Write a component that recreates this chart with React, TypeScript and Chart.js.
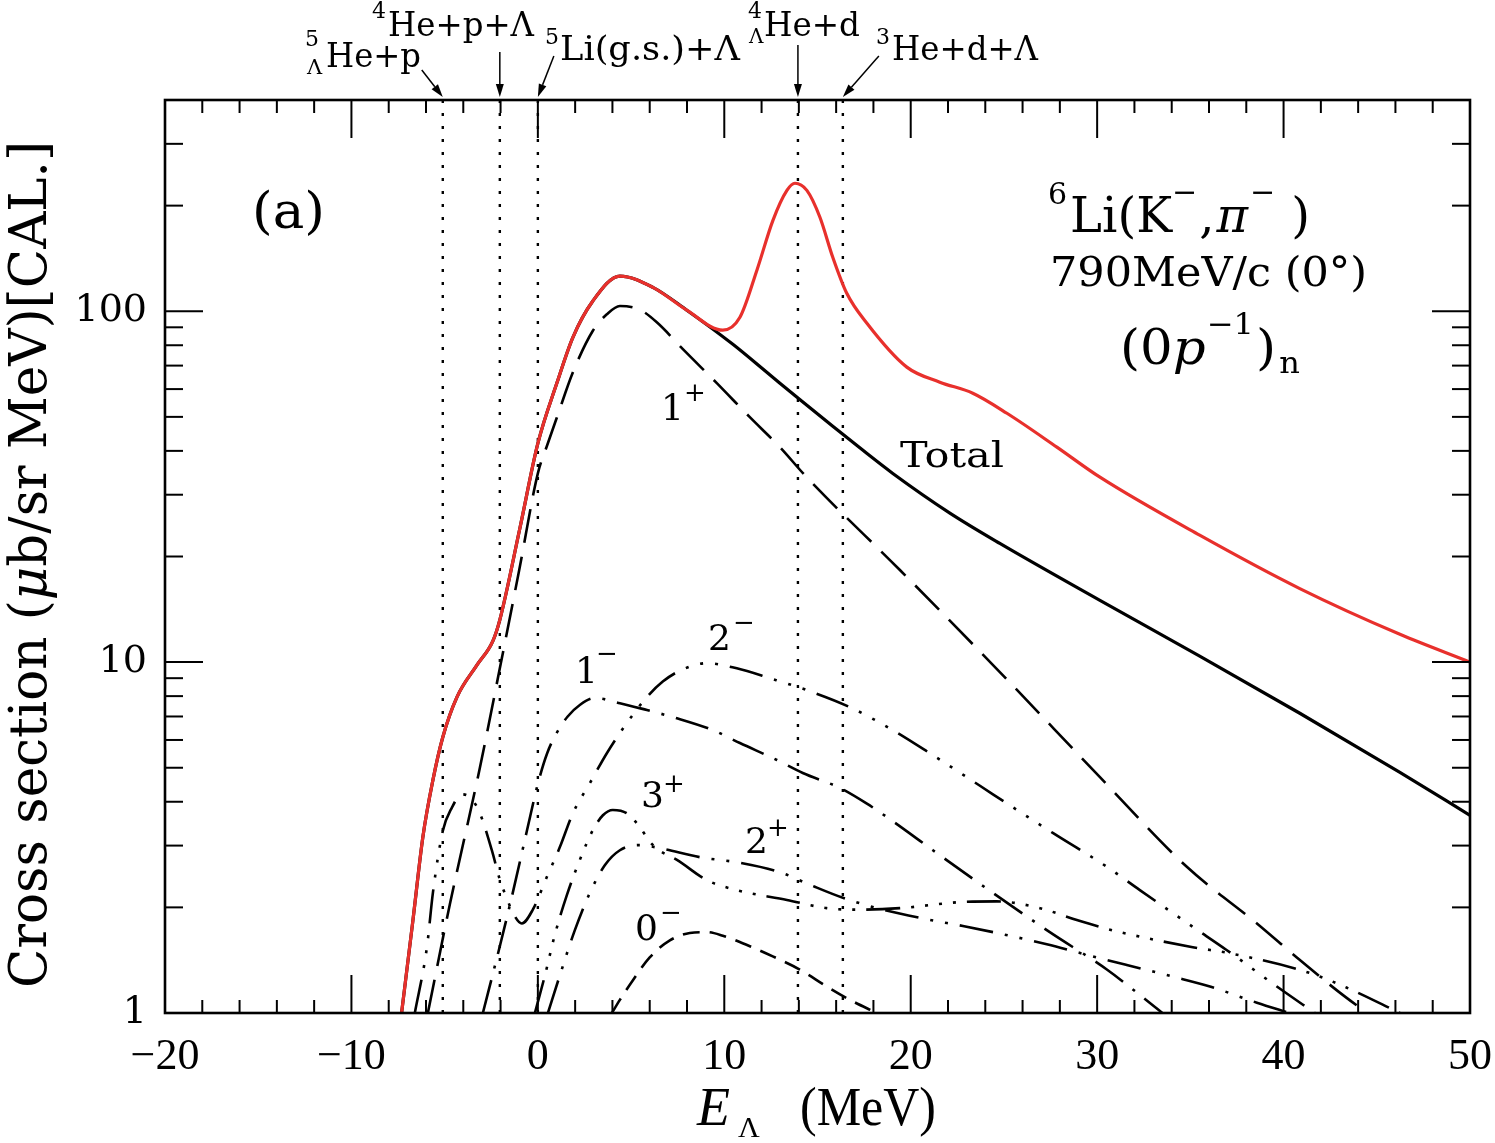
import React, { useEffect, useRef } from 'react';
import { Chart, registerables } from 'chart.js';

Chart.register(...registerables);

// ---- data -------------------------------------------------------------
const thresholds = [-5.1, -2.04, 0, 13.95, 16.36];
const thresholdTop = 400;

const redE = [-7.31, -6.7, -6.17, -5.63, -5.1, -4.34, -3.27, -2.41, -2.04, -0.97, 0, 1.02, 1.88, 2.95, 4.4, 6.17, 7.99, 9.92, 10.84, 11.75, 12.61, 13.36, 13.79, 14.43, 15.13, 15.82, 16.57, 17.65, 19.79, 21.56, 23.33, 25.16, 27.84, 30.15, 35.5, 40.87, 46.24, 50];
const redV = [1.0, 1.84, 3.17, 4.61, 6.11, 7.95, 9.8, 11.5, 13.2, 24.0, 42, 62.4, 84.3, 107, 126, 117, 100.7, 88.3, 96.1, 130.9, 181.6, 221, 231.6, 221, 185.3, 142.5, 112.5, 92.4, 69.3, 62.8, 58.4, 51.2, 41, 33.65, 23.0, 16.2, 12.0, 10];

const totalE = [-7.31, -6.7, -6.17, -5.63, -5.1, -4.34, -3.27, -2.41, -2.04, -0.97, 0, 1.02, 1.88, 2.95, 4.4, 6.17, 7.99, 10.46, 12.28, 14.05, 15.82, 17.27, 19.04, 22.1, 24.78, 30.15, 35.5, 40.87, 46.24, 50];
const totalV = [1.0, 1.84, 3.17, 4.61, 6.11, 7.95, 9.8, 11.5, 13.2, 24.0, 42, 62.4, 84.3, 107, 126, 117, 100.7, 80.5, 67, 56, 47, 40.8, 34.5, 26.6, 21.8, 15.0, 10.4, 7.15, 4.85, 3.66];

const onePlusE = [-5.9, -4.72, -3.11, -2.04, -1.0, 0, 0.5, 1.02, 1.88, 2.95, 3.7, 4.4, 5.47, 6.38, 7.78, 9.6, 11.37, 12.98, 14.43, 19.42, 24.78, 30.15, 34.81, 38.57, 40.71, 42.86, 44.47];
const onePlusV = [1.0, 2.04, 5.0, 9.6, 18.3, 34.5, 41.5, 49.8, 67, 88, 98, 103.5, 101, 93, 78, 62.4, 49.9, 41, 33.6, 18.3, 9.37, 4.7, 2.61, 1.8, 1.44, 1.16, 1.0];

const oneMinusE = [-2.95, -2.04, -1.39, -0.59, 0, 0.5, 1.02, 1.6, 2.25, 3.06, 4.4, 5.85, 7.46, 9.39, 10.84, 12.82, 14.21, 16.2, 17.65, 19.04, 21.19, 24.4, 27.46, 30.52, 33.5];
const oneMinusV = [1.0, 1.55, 2.15, 3.3, 4.5, 5.5, 6.3, 7.0, 7.55, 7.9, 7.64, 7.3, 6.92, 6.4, 5.88, 5.26, 4.83, 4.38, 3.95, 3.52, 2.91, 2.2, 1.7, 1.33, 1.0];

const twoMinusE = [-6.6, -5.95, -5.63, -5.1, -4.61, -4.08, -3.6, -3.11, -2.47, -2.04, -1.66, -1.34, -0.86, -0.27, 0.48, 1.18, 1.88, 2.79, 3.7, 4.77, 5.85, 6.7, 7.62, 9.07, 10.67, 12.44, 14.43, 16.74, 19.04, 21.19, 23.01, 24.41, 27.62, 30.52, 32.29, 35.13, 36.96, 39.64, 41.68];
const twoMinusV = [1.0, 1.54, 2.2, 3.3, 3.85, 4.2, 4.1, 3.71, 2.91, 2.4, 2.12, 1.93, 1.8, 1.97, 2.44, 2.97, 3.71, 4.52, 5.5, 6.7, 7.95, 8.8, 9.45, 9.93, 9.6, 9.0, 8.32, 7.44, 6.4, 5.43, 4.7, 4.2, 3.26, 2.61, 2.24, 1.76, 1.51, 1.19, 1.0];

const threePlusE = [-0.16, 0.38, 0.91, 1.56, 2.25, 2.95, 3.49, 4.02, 4.77, 5.47, 6.0, 6.54, 7.46, 9.07, 10.67, 13.36, 15.5, 17.27, 19.42, 22.64, 24.62, 26.93, 28.91, 30.84, 35.13, 37.12, 41.41, 43.4, 46.24];
const threePlusV = [1.0, 1.28, 1.67, 2.17, 2.73, 3.32, 3.66, 3.79, 3.71, 3.39, 3.08, 2.9, 2.73, 2.39, 2.24, 2.1, 1.99, 1.97, 1.99, 2.07, 2.08, 1.99, 1.84, 1.72, 1.54, 1.48, 1.3, 1.18, 1.0];

const twoPlusE = [0.54, 1.18, 1.98, 2.79, 3.6, 4.4, 5.47, 6.54, 8.69, 10.84, 12.98, 14.59, 16.36, 18.35, 20.87, 22.8, 25.32, 27.3, 29.77, 31.59, 34.06, 36.05, 38.57, 40.3];
const twoPlusV = [1.0, 1.28, 1.72, 2.2, 2.64, 2.91, 3.01, 2.95, 2.78, 2.68, 2.52, 2.32, 2.13, 1.98, 1.85, 1.77, 1.66, 1.57, 1.45, 1.37, 1.27, 1.19, 1.07, 1.0];

const zeroMinusE = [3.97, 4.4, 5.1, 6.0, 7.08, 8.15, 9.07, 9.92, 11.37, 12.6, 14.05, 15.5, 16.74, 18.18];
const zeroMinusV = [1.0, 1.09, 1.24, 1.44, 1.61, 1.69, 1.7, 1.66, 1.55, 1.45, 1.33, 1.19, 1.09, 1.0];

const xMin = -20;
const xMax = 50;
const xMajorStep = 10;
const xMinorStep = 2;
const yMin = 1;
const yMax = 400;
const yLabelValues = [1, 10, 100];

// ---- styling helpers ----------------------------------------------------
const DV = "'DejaVu Serif'";
const LS = "'Liberation Serif'";
const RED = '#e8302c';

const toPts = (xs: number[], ys: number[]) => xs.map((x, i) => ({ x, y: ys[i] }));

type Piece = { t: string; f: string; dx?: number; dy?: number };

function rich(ctx: CanvasRenderingContext2D, pieces: Piece[], x: number, y: number, width?: number) {
  ctx.save();
  ctx.textAlign = 'left';
  ctx.textBaseline = 'alphabetic';
  ctx.fillStyle = '#000';
  let nat = 0;
  for (const p of pieces) {
    ctx.font = p.f;
    nat += (p.dx || 0) + ctx.measureText(p.t).width;
  }
  const s = width ? width / nat : 1;
  ctx.translate(x, y);
  ctx.scale(s, 1);
  let cx = 0;
  for (const p of pieces) {
    ctx.font = p.f;
    cx += p.dx || 0;
    ctx.fillText(p.t, cx, p.dy || 0);
    cx += ctx.measureText(p.t).width;
  }
  ctx.restore();
}

function arrow(ctx: CanvasRenderingContext2D, x0: number, y0: number, x1: number, y1: number) {
  const ang = Math.atan2(y1 - y0, x1 - x0);
  const L = 13;
  const W = 4;
  const bx = x1 - L * Math.cos(ang);
  const by = y1 - L * Math.sin(ang);
  ctx.beginPath();
  ctx.moveTo(x0, y0);
  ctx.lineTo(bx, by);
  ctx.stroke();
  ctx.beginPath();
  ctx.moveTo(x1, y1);
  ctx.lineTo(bx + W * Math.sin(ang), by - W * Math.cos(ang));
  ctx.lineTo(bx - W * Math.sin(ang), by + W * Math.cos(ang));
  ctx.closePath();
  ctx.fill();
}

const framePlugin = {
  id: 'frameAndText',
  afterDraw(chart: any) {
    const { ctx, chartArea: a, scales } = chart;
    const xs = scales.x;
    const ys = scales.y;
    ctx.save();
    ctx.strokeStyle = '#000';
    ctx.fillStyle = '#000';
    ctx.lineCap = 'butt';

    // ticks on all sides, pointing inward
    ctx.lineWidth = 2;
    const seg = (x0: number, y0: number, x1: number, y1: number) => {
      ctx.beginPath();
      ctx.moveTo(x0, y0);
      ctx.lineTo(x1, y1);
      ctx.stroke();
    };
    for (let v = xMin; v <= xMax + 1e-9; v += xMinorStep) {
      const px = xs.getPixelForValue(v);
      const major = Math.abs(v % xMajorStep) < 1e-9;
      const L = major ? 38 : 13;
      seg(px, a.bottom, px, a.bottom - L);
      seg(px, a.top, px, a.top + L);
    }
    for (let dec = 1; dec <= 100; dec *= 10) {
      for (let m = 1; m <= 9; m++) {
        const v = dec * m;
        if (v < yMin || v >= yMax) continue;
        const py = ys.getPixelForValue(v);
        const L = m === 1 ? 38 : 18;
        seg(a.left, py, a.left + L, py);
        seg(a.right, py, a.right - L, py);
      }
    }
    // frame
    ctx.lineWidth = 2.6;
    ctx.strokeRect(a.left, a.top, a.right - a.left, a.bottom - a.top);

    // threshold arrows
    ctx.lineWidth = 1.5;
    const starts = [[-21, 70], [0, 52], [16, 56], [0, 45], [36, 56]];
    thresholds.forEach((t, i) => {
      const tx = xs.getPixelForValue(t);
      arrow(ctx, tx + starts[i][0], starts[i][1], tx, a.top - 3);
    });

    // threshold labels
    const sup = `22px ${DV}`;
    const big = `34px ${DV}`;
    rich(ctx, [{ t: '5', f: sup }], 305, 46);
    rich(ctx, [{ t: 'Λ', f: `21px ${DV}` }], 307, 74);
    rich(ctx, [{ t: 'He+p', f: big }], 326, 67, 95);
    rich(ctx, [{ t: '4', f: sup }], 372, 18);
    rich(ctx, [{ t: 'He+p+Λ', f: big }], 388, 36, 146);
    rich(ctx, [{ t: '5', f: sup }], 545, 44);
    rich(ctx, [{ t: 'Li(g.s.)+Λ', f: big }], 560, 60, 180);
    rich(ctx, [{ t: '4', f: sup }], 748, 18);
    rich(ctx, [{ t: 'Λ', f: `20px ${DV}` }], 749, 43);
    rich(ctx, [{ t: 'He+d', f: big }], 764, 36, 96);
    rich(ctx, [{ t: '3', f: sup }], 876, 44);
    rich(ctx, [{ t: 'He+d+Λ', f: big }], 892, 60, 146);

    // panel annotations
    rich(ctx, [{ t: '(a)', f: `50px ${DV}` }], 252, 228, 73);
    rich(
      ctx,
      [
        { t: '6', f: `30px ${DV}`, dy: -28 },
        { t: 'Li(K', f: `48px ${DV}`, dx: 3 },
        { t: '−', f: `30px ${DV}`, dy: -30 },
        { t: ',', f: `48px ${DV}`, dx: 2 },
        { t: 'π', f: `italic 48px ${DV}`, dx: 2 },
        { t: '−', f: `30px ${DV}`, dy: -30, dx: 2 },
        { t: ')', f: `48px ${DV}`, dx: 16 },
      ],
      1048,
      232,
      262
    );
    rich(ctx, [{ t: '790MeV/c (0°)', f: `41px ${DV}` }], 1050, 286, 317);
    rich(
      ctx,
      [
        { t: '(0', f: `48px ${DV}` },
        { t: 'p', f: `italic 48px ${DV}` },
        { t: '−1', f: `30px ${DV}`, dy: -30, dx: 1 },
        { t: ')', f: `48px ${DV}`, dx: 2 },
        { t: 'n', f: `30px ${DV}`, dy: 9, dx: 3 },
      ],
      1120,
      364,
      180
    );

    // curve labels
    const lf = `36px ${DV}`;
    const sf = `26px ${DV}`;
    rich(ctx, [{ t: '1', f: lf }], 661, 420);
    rich(ctx, [{ t: '+', f: sf }], 684, 401);
    rich(ctx, [{ t: 'Total', f: lf }], 900, 467, 104);
    rich(ctx, [{ t: '2', f: lf }], 708, 650);
    rich(ctx, [{ t: '−', f: sf }], 733, 631);
    rich(ctx, [{ t: '1', f: lf }], 575, 683);
    rich(ctx, [{ t: '−', f: sf }], 596, 662);
    rich(ctx, [{ t: '3', f: lf }], 641, 807);
    rich(ctx, [{ t: '+', f: sf }], 663, 792);
    rich(ctx, [{ t: '2', f: lf }], 745, 853);
    rich(ctx, [{ t: '+', f: sf }], 767, 836);
    rich(ctx, [{ t: '0', f: lf }], 635, 940);
    rich(ctx, [{ t: '−', f: sf }], 660, 921);

    // axis titles
    ctx.save();
    ctx.translate(46, 988);
    ctx.rotate(-Math.PI / 2);
    rich(
      ctx,
      [
        { t: 'Cross section (', f: `52px ${DV}` },
        { t: 'μ', f: `italic 52px ${DV}` },
        { t: 'b/sr MeV)[CAL.]', f: `52px ${DV}` },
      ],
      0,
      0,
      847
    );
    ctx.restore();

    rich(ctx, [{ t: 'E', f: `italic 54px ${LS}` }], 697, 1125);
    rich(ctx, [{ t: 'Λ', f: `30px ${LS}` }], 738, 1137);
    rich(ctx, [{ t: '(MeV)', f: `54px ${LS}` }], 800, 1125, 136);

    ctx.restore();
  },
};

const curve = (label: string, xs: number[], ys: number[], color: string, width: number, dash: number[]) => ({
  label,
  data: toPts(xs, ys),
  borderColor: color,
  borderWidth: width,
  borderDash: dash,
  borderCapStyle: 'butt',
  pointRadius: 0,
  fill: false,
  cubicInterpolationMode: 'monotone',
});

export default function App() {
  const ref = useRef<HTMLCanvasElement | null>(null);

  useEffect(() => {
    if (!ref.current) return;
    const datasets: any[] = [
      curve('Total + peak', redE, redV, RED, 3.2, []),
      curve('Total', totalE, totalV, '#000', 3.2, []),
      curve('1+', onePlusE, onePlusV, '#000', 2.6, [34, 14]),
      curve('1-', oneMinusE, oneMinusV, '#000', 2.6, [34, 12, 3, 12]),
      curve('2-', twoMinusE, twoMinusV, '#000', 2.6, [34, 12, 3, 12, 3, 12, 3, 12]),
      curve('3+', threePlusE, threePlusV, '#000', 2.6, [34, 11, 3, 11, 3, 11, 3, 11, 3, 11]),
      curve('2+', twoPlusE, twoPlusV, '#000', 2.6, [34, 12, 3, 12, 3, 12]),
      curve('0-', zeroMinusE, zeroMinusV, '#000', 2.6, [17, 10]),
      ...thresholds.map((t) => ({
        label: 'thr',
        data: [
          { x: t, y: yMin },
          { x: t, y: thresholdTop },
        ],
        borderColor: '#000',
        borderWidth: 2.4,
        borderDash: [3, 10],
        borderCapStyle: 'butt',
        pointRadius: 0,
        fill: false,
      })),
    ];

    const chart = new Chart(ref.current, {
      type: 'line',
      data: { datasets },
      options: {
        animation: false,
        responsive: false,
        devicePixelRatio: 1,
        events: [],
        layout: { padding: { top: 100, right: 25, left: 0, bottom: 0 } },
        plugins: { legend: { display: false }, tooltip: { enabled: false } },
        scales: {
          x: {
            type: 'linear',
            min: xMin,
            max: xMax,
            afterFit: (s: any) => {
              s.height = 130;
              s.paddingLeft = 0;
              s.paddingRight = 0;
            },
            grid: { display: false, drawTicks: false },
            border: { display: false },
            ticks: {
              stepSize: xMajorStep,
              autoSkip: false,
              maxRotation: 0,
              padding: 18,
              color: '#000',
              font: { family: LS, size: 44 },
              callback: (v: any) => (v < 0 ? '−' + Math.abs(v) : String(v)),
            },
          },
          y: {
            type: 'logarithmic',
            min: yMin,
            max: yMax,
            afterFit: (s: any) => {
              s.width = 165;
              s.paddingTop = 0;
              s.paddingBottom = 0;
            },
            grid: { display: false, drawTicks: false },
            border: { display: false },
            ticks: {
              autoSkip: false,
              padding: 18,
              color: '#000',
              font: { family: DV, size: 38 },
              callback: (v: any) => {
                const n = Number(v);
                return yLabelValues.some((t) => Math.abs(t - n) < 1e-6) ? String(Math.round(n)) : '';
              },
            },
          },
        },
      } as any,
      plugins: [framePlugin],
    });
    return () => chart.destroy();
  }, []);

  return (
    <div style={{ position: 'fixed', left: 0, top: 0, width: 1495, height: 1143, background: '#fff' }}>
      <canvas ref={ref} width={1495} height={1143} style={{ width: 1495, height: 1143, display: 'block' }} />
    </div>
  );
}
